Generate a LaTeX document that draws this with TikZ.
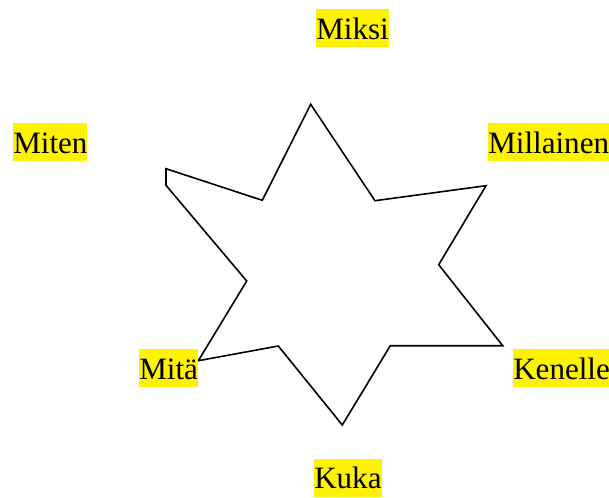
\documentclass[tikz,border=0pt]{standalone}
\usepackage{xcolor}
\usepackage{fontspec}
\setmainfont{Liberation Serif}
\usepackage{tikz}
\usetikzlibrary{positioning,calc}

\begin{document}
\begin{tikzpicture}[
            x=0.75pt, y=-0.75pt,
            every node/.style={font=\fontsize{23.3}{28}\selectfont},
            lbl/.style={fill=yellow, inner sep=0pt, text height=22.3pt, text depth=6pt, anchor=north west},
        ]
            \useasboundingbox (0,0) rectangle (609,497);
            % star
            \draw[line width=1.2pt, line join=miter]
                (310.7,104.3) -- (375,200.7) -- (486,185.7) -- (438.7,264.7)
                -- (502.7,345.7) -- (390.3,345.7) -- (342.3,425) -- (278.3,346)
                -- (198.3,360.7) -- (246.7,281) -- (166,185.3) -- (166,168.7)
                -- (262.3,200.3) -- cycle;
            % labels
            \node[lbl] (miksi) at (316,9) {Miksi};
            \node[lbl] (miten) at (13,123) {Miten};
            \node[lbl] (millainen) at (488,123) {Millainen};
            \node[lbl] (mita) at (139,349) {Mitä};
            \node[lbl] (kenelle) at (513,349) {Kenelle};
            \node[lbl] (kuka) at (314,458.5) {Kuka};
        \end{tikzpicture}
\end{document}
